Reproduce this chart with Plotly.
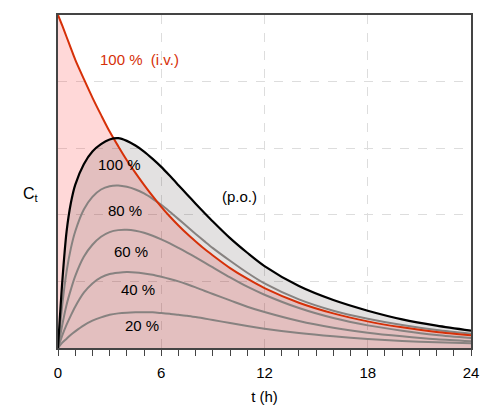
import plotly.graph_objects as go

# time grid (h)
t = [0, 0.25, 0.5, 0.75, 1, 1.5, 2, 2.5, 3, 3.5, 4, 4.5, 5, 5.5, 6, 6.5, 7, 7.5, 8, 8.5, 9, 10, 11, 12, 14, 16, 18, 20, 22, 24]

iv_100 = [5.0, 4.84, 4.67, 4.5, 4.33, 4.04, 3.76, 3.5, 3.25, 3.03, 2.82, 2.63, 2.45, 2.28, 2.12, 1.975, 1.84, 1.715, 1.6, 1.49, 1.39, 1.2, 1.04, 0.9, 0.68, 0.52, 0.4, 0.31, 0.24, 0.19]
po_100 = [0, 1.0, 1.75, 2.18, 2.45, 2.76, 2.95, 3.06, 3.13, 3.15, 3.11, 3.04, 2.95, 2.84, 2.72, 2.585, 2.445, 2.305, 2.167, 2.032, 1.90, 1.65, 1.43, 1.23, 0.93, 0.72, 0.56, 0.43, 0.335, 0.26]
po_80 = [0, 0.65, 1.15, 1.5, 1.75, 2.08, 2.27, 2.38, 2.43, 2.44, 2.42, 2.38, 2.32, 2.24, 2.15, 2.045, 1.935, 1.823, 1.712, 1.605, 1.50, 1.31, 1.13, 0.97, 0.73, 0.56, 0.44, 0.345, 0.27, 0.215]
po_60 = [0, 0.35, 0.65, 0.88, 1.08, 1.37, 1.55, 1.67, 1.74, 1.77, 1.775, 1.76, 1.73, 1.685, 1.63, 1.57, 1.503, 1.433, 1.36, 1.285, 1.21, 1.06, 0.92, 0.80, 0.60, 0.45, 0.34, 0.26, 0.195, 0.15]
po_40 = [0, 0.19, 0.35, 0.49, 0.62, 0.83, 0.97, 1.06, 1.11, 1.13, 1.14, 1.135, 1.12, 1.10, 1.07, 1.037, 1.0, 0.957, 0.91, 0.86, 0.81, 0.715, 0.62, 0.54, 0.405, 0.305, 0.23, 0.175, 0.13, 0.10]
po_20 = [0, 0.08, 0.14, 0.2, 0.25, 0.34, 0.41, 0.46, 0.50, 0.52, 0.53, 0.535, 0.537, 0.535, 0.525, 0.513, 0.50, 0.483, 0.465, 0.443, 0.42, 0.375, 0.33, 0.29, 0.225, 0.175, 0.135, 0.105, 0.085, 0.07]

x_ticks = [0, 6, 12, 18, 24]
x_tick_labels = ["0", "6", "12", "18", "24"]

RED = "rgb(214,48,8)"
GRAY = "rgb(135,130,128)"
FONT = "Liberation Sans, Arial, sans-serif"
SM = 0.8

fig = go.Figure()
# fills
fig.add_trace(go.Scatter(x=t, y=iv_100, mode="lines", line=dict(width=0, shape="spline", smoothing=SM),
                         fill="tozeroy", fillcolor="rgba(255,60,60,0.2)", hoverinfo="skip"))
fig.add_trace(go.Scatter(x=t, y=po_100, mode="lines", line=dict(width=0, shape="spline", smoothing=SM),
                         fill="tozeroy", fillcolor="rgba(40,20,25,0.13)", hoverinfo="skip"))
# gray p.o. curves
for ys in (po_80, po_60, po_40, po_20):
    fig.add_trace(go.Scatter(x=t, y=ys, mode="lines", line=dict(color=GRAY, width=2, shape="spline", smoothing=SM)))
# i.v. line
fig.add_trace(go.Scatter(x=t, y=iv_100, mode="lines", line=dict(color=RED, width=2, shape="spline", smoothing=SM)))
# 100% p.o.
fig.add_trace(go.Scatter(x=t, y=po_100, mode="lines", line=dict(color="black", width=2.2, shape="spline", smoothing=SM)))

labels = [
    (4.73, 4.33, "100 %  (i.v.)", RED),
    (3.57, 2.76, "100 %", "black"),
    (3.92, 2.07, "80 %", "black"),
    (4.27, 1.45, "60 %", "black"),
    (4.62, 0.88, "40 %", "black"),
    (4.91, 0.34, "20 %", "black"),
    (10.57, 2.27, "(p.o.)", "black"),
]
for x, y, txt, c in labels:
    fig.add_annotation(x=x, y=y, text=txt, showarrow=False, font=dict(family=FONT, size=15, color=c))

fig.add_annotation(xref="paper", yref="paper", x=-0.04, y=0.46, text="C<sub>t</sub>", showarrow=False,
                   xanchor="right", font=dict(family=FONT, size=16, color="black"))

fig.update_layout(
    width=500, height=415,
    margin=dict(l=50, r=37, t=5, b=75),
    paper_bgcolor="white", plot_bgcolor="white",
    showlegend=False,
    font=dict(family=FONT, size=15, color="black"),
    xaxis=dict(range=[0, 24], tickvals=x_ticks, ticktext=x_tick_labels, ticks="outside", ticklen=6,
               tickcolor="#444", showline=True, linecolor="#444", linewidth=1.5, mirror=True,
               showgrid=True, gridcolor="#dddddd", griddash="dash", gridwidth=1, zeroline=False,
               ticklabelstandoff=4,
               minor=dict(dtick=1, tick0=0, ticks="outside", ticklen=6, tickcolor="#444", showgrid=False),
               title=dict(text="t (h)", font=dict(size=15), standoff=12)),
    yaxis=dict(range=[0, 5], dtick=1, showticklabels=False, ticks="", showline=True, linecolor="#444",
               linewidth=1.5, mirror=True, showgrid=True, gridcolor="#dddddd", griddash="dash",
               zeroline=False),
)

fig.write_html("out.html")
